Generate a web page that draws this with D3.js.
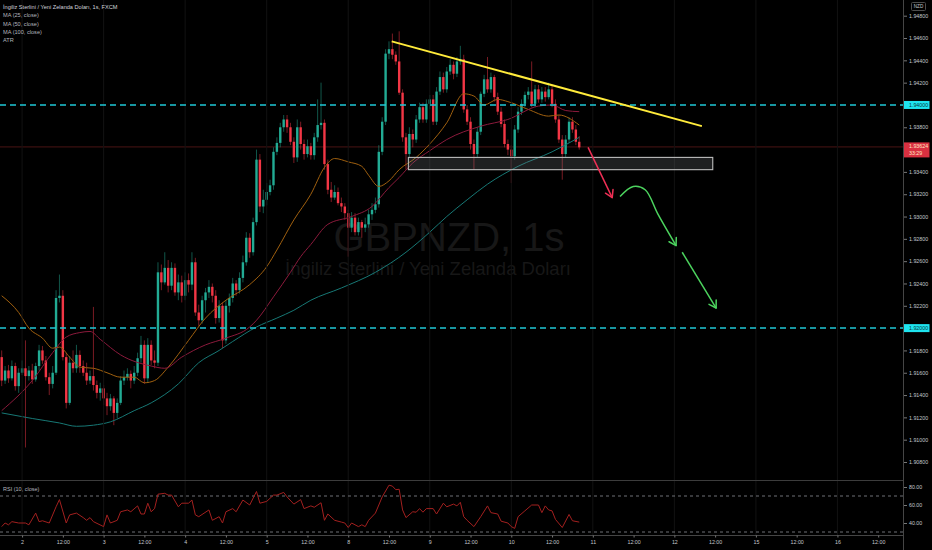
<!DOCTYPE html>
<html>
<head>
<meta charset="utf-8">
<title>GBPNZD, 1s</title>
<script src="https://cdn.jsdelivr.net/npm/d3@7/dist/d3.min.js"></script>
<style>
    html, body { margin: 0; padding: 0; background: #000; overflow: hidden; }
    #chart { width: 932px; height: 550px; }
    svg text { font-family: 'Liberation Sans', Arial, sans-serif; }
</style>
</head>
<body>
<div id="chart"></div>
<script>
// hourly candles, index 0 = day 2 00:00 (weekend hours skipped)
const firstIndex = -6;

const opens = [
    1.9174, 1.9153, 1.9162, 1.9155, 1.9166, 1.9148, 1.9160, 1.9164, 1.9157, 1.9162,
    1.9154, 1.9166, 1.9180, 1.9171, 1.9156, 1.9150, 1.9160, 1.9227, 1.9229, 1.9174,
    1.9133, 1.9169, 1.9164, 1.9176, 1.9166, 1.9160, 1.9153, 1.9157, 1.9149, 1.9142,
    1.9146, 1.9137, 1.9130, 1.9137, 1.9124, 1.9133, 1.9153, 1.9156, 1.9159, 1.9153,
    1.9160, 1.9173, 1.9185, 1.9155, 1.9185, 1.9171, 1.9169, 1.9250, 1.9241, 1.9254,
    1.9238, 1.9254, 1.9232, 1.9241, 1.9229, 1.9243, 1.9239, 1.9259, 1.9214, 1.9207,
    1.9225, 1.9232, 1.9237, 1.9229, 1.9209, 1.9220, 1.9189, 1.9220, 1.9227, 1.9240,
    1.9234, 1.9245, 1.9259, 1.9281, 1.9268, 1.9295, 1.9351, 1.9309, 1.9315, 1.9322,
    1.9328, 1.9358, 1.9366, 1.9380, 1.9387, 1.9380, 1.9367, 1.9353, 1.9380, 1.9365,
    1.9356, 1.9363, 1.9355, 1.9371, 1.9382, 1.9384, 1.9347, 1.9324, 1.9317, 1.9322,
    1.9312, 1.9309, 1.9303, 1.9290, 1.9299, 1.9286, 1.9295, 1.9290, 1.9293, 1.9302,
    1.9306, 1.9311, 1.9358, 1.9385, 1.9446, 1.9450, 1.9445, 1.9439, 1.9411, 1.9371,
    1.9356, 1.9374, 1.9369, 1.9387, 1.9398, 1.9387, 1.9401, 1.9405, 1.9385, 1.9412,
    1.9425, 1.9414, 1.9430, 1.9436, 1.9428, 1.9439, 1.9441, 1.9396, 1.9385, 1.9365,
    1.9356, 1.9376, 1.9410, 1.9423, 1.9414, 1.9425, 1.9407, 1.9394, 1.9383, 1.9365,
    1.9360, 1.9354, 1.9378, 1.9394, 1.9401, 1.9409, 1.9412, 1.9401, 1.9414, 1.9405,
    1.9412, 1.9407, 1.9414, 1.9401, 1.9387, 1.9369, 1.9356, 1.9369, 1.9385, 1.9378,
    1.9367
];
const highs = [
    1.9180, 1.9166, 1.9167, 1.9171, 1.9169, 1.9164, 1.9171, 1.9189, 1.9166, 1.9168,
    1.9169, 1.9185, 1.9184, 1.9175, 1.9160, 1.9166, 1.9234, 1.9248, 1.9234, 1.9178,
    1.9175, 1.9180, 1.9185, 1.9180, 1.9171, 1.9169, 1.9162, 1.9219, 1.9153, 1.9151,
    1.9149, 1.9142, 1.9141, 1.9139, 1.9137, 1.9157, 1.9162, 1.9164, 1.9162, 1.9166,
    1.9178, 1.9193, 1.9189, 1.9191, 1.9189, 1.9180, 1.9259, 1.9257, 1.9268, 1.9261,
    1.9259, 1.9258, 1.9248, 1.9247, 1.9250, 1.9249, 1.9268, 1.9263, 1.9221, 1.9229,
    1.9236, 1.9243, 1.9240, 1.9234, 1.9225, 1.9223, 1.9225, 1.9231, 1.9245, 1.9243,
    1.9250, 1.9265, 1.9286, 1.9285, 1.9299, 1.9360, 1.9356, 1.9324, 1.9330, 1.9333,
    1.9362, 1.9371, 1.9384, 1.9391, 1.9391, 1.9384, 1.9371, 1.9387, 1.9385, 1.9369,
    1.9369, 1.9366, 1.9375, 1.9405, 1.9420, 1.9387, 1.9351, 1.9331, 1.9328, 1.9326,
    1.9317, 1.9312, 1.9306, 1.9304, 1.9303, 1.9299, 1.9297, 1.9299, 1.9306, 1.9312,
    1.9317, 1.9364, 1.9389, 1.9450, 1.9457, 1.9464, 1.9448, 1.9466, 1.9414, 1.9375,
    1.9380, 1.9378, 1.9391, 1.9402, 1.9402, 1.9405, 1.9409, 1.9409, 1.9416, 1.9430,
    1.9429, 1.9434, 1.9441, 1.9439, 1.9443, 1.9453, 1.9445, 1.9400, 1.9389, 1.9369,
    1.9380, 1.9412, 1.9427, 1.9443, 1.9429, 1.9427, 1.9411, 1.9398, 1.9387, 1.9369,
    1.9364, 1.9382, 1.9398, 1.9405, 1.9412, 1.9416, 1.9439, 1.9418, 1.9418, 1.9416,
    1.9416, 1.9420, 1.9418, 1.9405, 1.9391, 1.9373, 1.9373, 1.9389, 1.9389, 1.9382,
    1.9372
];
const lows = [
    1.9148, 1.9150, 1.9151, 1.9153, 1.9144, 1.9142, 1.9158, 1.9093, 1.9153, 1.9150,
    1.9152, 1.9162, 1.9168, 1.9153, 1.9140, 1.9146, 1.9158, 1.9223, 1.9171, 1.9128,
    1.9131, 1.9160, 1.9160, 1.9160, 1.9157, 1.9149, 1.9150, 1.9144, 1.9137, 1.9135,
    1.9131, 1.9122, 1.9126, 1.9113, 1.9119, 1.9131, 1.9149, 1.9153, 1.9146, 1.9150,
    1.9157, 1.9169, 1.9150, 1.9151, 1.9167, 1.9164, 1.9166, 1.9234, 1.9239, 1.9232,
    1.9234, 1.9229, 1.9225, 1.9223, 1.9225, 1.9232, 1.9234, 1.9211, 1.9202, 1.9204,
    1.9214, 1.9227, 1.9223, 1.9204, 1.9205, 1.9182, 1.9186, 1.9214, 1.9223, 1.9229,
    1.9231, 1.9241, 1.9256, 1.9263, 1.9265, 1.9292, 1.9304, 1.9303, 1.9310, 1.9319,
    1.9324, 1.9355, 1.9362, 1.9376, 1.9375, 1.9364, 1.9348, 1.9349, 1.9360, 1.9351,
    1.9353, 1.9351, 1.9351, 1.9367, 1.9378, 1.9342, 1.9320, 1.9313, 1.9315, 1.9310,
    1.9304, 1.9297, 1.9264, 1.9286, 1.9283, 1.9283, 1.9281, 1.9286, 1.9290, 1.9297,
    1.9303, 1.9308, 1.9355, 1.9382, 1.9441, 1.9441, 1.9436, 1.9409, 1.9367, 1.9342,
    1.9353, 1.9362, 1.9366, 1.9384, 1.9384, 1.9384, 1.9396, 1.9382, 1.9382, 1.9409,
    1.9411, 1.9411, 1.9427, 1.9423, 1.9425, 1.9436, 1.9393, 1.9382, 1.9360, 1.9342,
    1.9353, 1.9373, 1.9407, 1.9411, 1.9411, 1.9403, 1.9391, 1.9380, 1.9362, 1.9355,
    1.9330, 1.9351, 1.9375, 1.9391, 1.9398, 1.9405, 1.9398, 1.9398, 1.9402, 1.9402,
    1.9403, 1.9405, 1.9398, 1.9384, 1.9366, 1.9333, 1.9353, 1.9366, 1.9375, 1.9364,
    1.9360
];
const closes = [
    1.9153, 1.9162, 1.9155, 1.9166, 1.9148, 1.9160, 1.9164, 1.9157, 1.9162, 1.9154,
    1.9166, 1.9180, 1.9171, 1.9156, 1.9150, 1.9160, 1.9227, 1.9229, 1.9174, 1.9133,
    1.9169, 1.9164, 1.9176, 1.9166, 1.9160, 1.9153, 1.9157, 1.9149, 1.9142, 1.9146,
    1.9137, 1.9130, 1.9137, 1.9124, 1.9133, 1.9153, 1.9156, 1.9159, 1.9153, 1.9160,
    1.9173, 1.9185, 1.9155, 1.9185, 1.9171, 1.9169, 1.9250, 1.9241, 1.9254, 1.9238,
    1.9254, 1.9232, 1.9241, 1.9229, 1.9243, 1.9239, 1.9259, 1.9214, 1.9207, 1.9225,
    1.9232, 1.9237, 1.9229, 1.9209, 1.9220, 1.9189, 1.9220, 1.9227, 1.9240, 1.9234,
    1.9245, 1.9259, 1.9281, 1.9268, 1.9295, 1.9351, 1.9309, 1.9315, 1.9322, 1.9328,
    1.9358, 1.9366, 1.9380, 1.9387, 1.9380, 1.9367, 1.9353, 1.9380, 1.9365, 1.9356,
    1.9363, 1.9355, 1.9371, 1.9382, 1.9384, 1.9347, 1.9324, 1.9317, 1.9322, 1.9312,
    1.9309, 1.9303, 1.9290, 1.9299, 1.9286, 1.9295, 1.9290, 1.9293, 1.9302, 1.9306,
    1.9311, 1.9358, 1.9385, 1.9446, 1.9450, 1.9445, 1.9439, 1.9411, 1.9371, 1.9356,
    1.9374, 1.9369, 1.9387, 1.9398, 1.9387, 1.9401, 1.9405, 1.9385, 1.9412, 1.9425,
    1.9414, 1.9430, 1.9436, 1.9428, 1.9439, 1.9441, 1.9396, 1.9385, 1.9365, 1.9356,
    1.9376, 1.9410, 1.9423, 1.9414, 1.9425, 1.9407, 1.9394, 1.9383, 1.9365, 1.9360,
    1.9354, 1.9378, 1.9394, 1.9401, 1.9409, 1.9412, 1.9401, 1.9414, 1.9405, 1.9412,
    1.9407, 1.9414, 1.9401, 1.9387, 1.9369, 1.9356, 1.9369, 1.9385, 1.9378, 1.9367,
    1.9362
];

// moving averages (candle index, value)
const ma25Index = [-6, -1, 2, 6, 9, 11, 14, 17, 21, 25, 29, 33, 36, 39, 43, 49, 54, 60, 67, 72,
    75, 80, 85, 89, 92, 96, 100, 102, 105, 108, 111, 116, 120, 125, 130, 133, 136, 140, 143, 149,
    155, 158, 164];
const ma25 = [1.9229, 1.9214, 1.9200, 1.9191, 1.9182, 1.9183, 1.9174, 1.9165, 1.9164, 1.9160,
    1.9156, 1.9156, 1.9151, 1.9153, 1.9165, 1.9189, 1.9209, 1.9225, 1.9239, 1.9255,
    1.9270, 1.9297, 1.9320, 1.9344, 1.9352, 1.9349, 1.9345, 1.9337, 1.9327, 1.9332,
    1.9342, 1.9353, 1.9365, 1.9384, 1.9410, 1.9408, 1.9400, 1.9405, 1.9403, 1.9396,
    1.9390, 1.9391, 1.9382];
const ma50Index = [-6, 3, 9, 13, 17, 20, 23, 29, 38, 42, 47, 54, 60, 67, 69, 74, 79, 82, 85, 90,
    97, 103, 108, 111, 115, 120, 125, 135, 143, 152, 156, 160, 164];
const ma50 = [1.9126, 1.9153, 1.9178, 1.9192, 1.9196, 1.9197, 1.9190, 1.9176, 1.9166, 1.9164,
    1.9174, 1.9185, 1.9191, 1.9201, 1.9207, 1.9228, 1.9250, 1.9264, 1.9275, 1.9293,
    1.9300, 1.9309, 1.9326, 1.9335, 1.9348, 1.9359, 1.9369, 1.9381, 1.9387, 1.9399,
    1.9400, 1.9395, 1.9394];
const ma100Index = [-6, 3, 11, 16, 21, 26, 33, 38, 46, 52, 58, 62, 69, 75, 80, 85, 94, 104, 113, 120,
    125, 131, 137, 146, 156, 164];
const ma100 = [1.9124, 1.9119, 1.9115, 1.9112, 1.9113, 1.9116, 1.9126, 1.9133, 1.9150, 1.9169,
    1.9180, 1.9188, 1.9201, 1.9209, 1.9216, 1.9225, 1.9236, 1.9250, 1.9268, 1.9286,
    1.9300, 1.9315, 1.9329, 1.9345, 1.9358, 1.9371];

// RSI (10)
const rsiIndex = [-6, -5, -4, -3, -1, 1, 2, 4, 5, 6, 8, 10, 11, 13, 14, 16, 18, 19, 20, 21,
    24, 25, 26, 28, 29, 31, 32, 34, 35, 36, 37, 38, 39, 40, 42, 43, 44, 46, 47, 49,
    50, 51, 52, 55, 56, 58, 59, 60, 62, 63, 65, 67, 69, 70, 72, 74, 75, 77, 78, 80,
    82, 83, 85, 86, 88, 89, 90, 92, 94, 95, 96, 97, 99, 100, 101, 102, 104, 106, 108, 109,
    110, 111, 112, 113, 115, 116, 117, 118, 119, 121, 122, 124, 125, 127, 128, 129, 130, 131, 133, 135,
    137, 138, 140, 141, 143, 144, 145, 146, 148, 150, 152, 153, 154, 155, 156, 157, 159, 161, 162, 164];
const rsiValues = [36, 40, 38, 41.5, 40, 40, 38, 51, 41.5, 42.5, 40, 58, 66, 40, 49, 51, 46, 43, 46, 41.5,
    36, 49, 40, 43, 52.5, 54.5, 52.5, 59, 50, 50, 62, 52.5, 56, 72, 73, 71, 71, 58, 62, 62,
    65.5, 49, 47, 54.5, 43, 47, 40, 52.5, 56, 52.5, 65.5, 60, 75, 62, 64, 71, 71, 74, 69, 61,
    66, 56, 59, 57.5, 62.5, 43, 50, 43, 41, 40, 35, 40, 36, 38, 36, 43, 51, 69, 82, 81,
    77, 77.5, 54.5, 46, 52.5, 52, 56, 52, 56, 56, 50, 62, 58, 61, 59, 63, 47, 43, 36, 47,
    59, 51.5, 50, 42, 40, 36, 34, 47, 53.5, 60, 60, 51.5, 59, 54.5, 53.5, 44, 35, 49.5, 42.5, 41];

// axis labels (1.940, 1.936 and 1.920 sit under the coloured scale labels)
const priceTicks = [1.948, 1.946, 1.944, 1.942, 1.938, 1.934, 1.932, 1.930, 1.928,
    1.926, 1.924, 1.922, 1.918, 1.916, 1.914, 1.912, 1.910, 1.908];
const rsiTicks = [80, 60, 40];
const rsiBands = [70, 30];
const timeTickIndex = [0, 12, 24, 36, 48, 60, 72, 84, 96, 108, 120, 132, 144, 156, 168, 180,
    192, 204, 216, 228, 240, 252];
const timeLabels = ['2', '12:00', '3', '12:00', '4', '12:00', '5', '12:00', '8', '12:00', '9',
    '12:00', '10', '12:00', '11', '12:00', '12', '12:00', '15', '12:00', '16', '12:00'];
const dayLineIndex = [0, 24, 48, 72, 96, 120, 144, 168, 192, 216, 240];

// drawings on the chart
const levelPrices = [1.94, 1.92];
const lastPrice = 1.93624;
const countdown = '33:29';
const trendLine = [[108.8, 1.9457], [200.1, 1.9381]];
const zoneIndex = [113.7, 203.3];
const zonePrice = [1.9353, 1.9342];
const redArrow = [[166.6, 1.9362], [173.7, 1.9317]];
const greenArrow1 = [[176.0, 1.9318], [179.9, 1.9327], [183.4, 1.9324], [187.2, 1.9302], [192.5, 1.9274]];
const greenArrow2 = [[194.3, 1.9268], [204.3, 1.9218]];

const legendLines = ['İngiliz Sterlini / Yeni Zelanda Doları, 1s, FXCM', 'MA (25, close)',
    'MA (50, close)', 'MA (100, close)', 'ATR'];

class CandleChart {
    constructor(container) {
        this.width = 932;
        this.height = 550;
        this.axisX = 903;
        this.mainBottom = 480;
        this.rsiTop = 481;
        this.rsiBottom = 535;

        this.x = d3.scaleLinear().domain([-6.5, 259.3]).range([0, this.axisX]);
        this.y = d3.scaleLinear().domain([1.908, 1.948]).range([462, 15.7]);
        this.yRsi = d3.scaleLinear().domain([30, 80]).range([532, 487]);

        this.candles = closes.map((c, i) => ({
            index: firstIndex + i,
            open: opens[i],
            high: highs[i],
            low: lows[i],
            close: c
        }));

        this.svg = d3.select(container)
            .append('svg')
            .attr('width', this.width)
            .attr('height', this.height)
            .style('background', '#000');

        const defs = this.svg.append('defs');
        defs.append('clipPath').attr('id', 'clip-main')
            .append('rect').attr('x', 0).attr('y', 0)
            .attr('width', this.axisX).attr('height', this.mainBottom);
        defs.append('clipPath').attr('id', 'clip-rsi')
            .append('rect').attr('x', 0).attr('y', this.rsiTop)
            .attr('width', this.axisX).attr('height', this.rsiBottom - this.rsiTop);

        this.main = this.svg.append('g').attr('clip-path', 'url(#clip-main)');
        this.drawGrid();
        this.drawWatermark();
        this.drawCandles();
        this.drawAverages();
        this.drawDrawings();
        this.drawRsi();
        this.drawAxes();
        this.drawLegend();
    }

    drawGrid() {
        this.svg.append('g')
            .selectAll('line')
            .data(dayLineIndex)
            .join('line')
            .attr('x1', d => this.x(d)).attr('x2', d => this.x(d))
            .attr('y1', 0).attr('y2', this.rsiBottom)
            .attr('stroke', '#121212')
            .attr('stroke-width', 1);
    }

    drawWatermark() {
        const g = this.main.append('g').attr('text-anchor', 'middle').attr('fill', '#171717');
        g.append('text')
            .attr('x', 449).attr('y', 251)
            .style('font-size', '40px')
            .text('GBPNZD, 1s');
        g.append('text')
            .attr('x', 428).attr('y', 275)
            .style('font-size', '18.5px')
            .text('İngiliz Sterlini / Yeni Zelanda Doları');
    }

    drawCandles() {
        const up = '#22ab94';
        const down = '#f23645';
        const bodyWidth = 2.4;
        const color = d => d.close >= d.open ? up : down;

        // last price line sits behind the candles
        this.main.append('line')
            .attr('x1', 0).attr('x2', this.axisX)
            .attr('y1', this.y(lastPrice)).attr('y2', this.y(lastPrice))
            .attr('stroke', '#4a1414')
            .attr('stroke-width', 1);

        const g = this.main.append('g');
        g.selectAll('line.wick')
            .data(this.candles)
            .join('line')
            .attr('class', 'wick')
            .attr('x1', d => this.x(d.index)).attr('x2', d => this.x(d.index))
            .attr('y1', d => this.y(d.high)).attr('y2', d => this.y(d.low))
            .attr('stroke', color)
            .attr('stroke-opacity', 0.5)
            .attr('stroke-width', 1);

        g.selectAll('rect.body')
            .data(this.candles)
            .join('rect')
            .attr('class', 'body')
            .attr('x', d => this.x(d.index) - bodyWidth / 2)
            .attr('y', d => this.y(Math.max(d.open, d.close)))
            .attr('width', bodyWidth)
            .attr('height', d => Math.max(1, Math.abs(this.y(d.open) - this.y(d.close))))
            .attr('fill', color);
    }

    drawAverages() {
        const series = [
            { index: ma25Index, values: ma25, color: '#a0600f' },
            { index: ma50Index, values: ma50, color: '#8c1a3c' },
            { index: ma100Index, values: ma100, color: '#177875' }
        ];
        const line = d3.line()
            .x(d => this.x(d[0]))
            .y(d => this.y(d[1]))
            .curve(d3.curveMonotoneX);

        this.main.append('g')
            .selectAll('path')
            .data(series)
            .join('path')
            .attr('d', s => line(s.index.map((idx, i) => [idx, s.values[i]])))
            .attr('fill', 'none')
            .attr('stroke', s => s.color)
            .attr('stroke-width', 1);
    }

    arrowHead(g, from, to, color) {
        const x0 = this.x(from[0]), y0 = this.y(from[1]);
        const x1 = this.x(to[0]), y1 = this.y(to[1]);
        const angle = Math.atan2(y1 - y0, x1 - x0);
        [-0.55, 0.55].forEach(da => {
            g.append('line')
                .attr('x1', x1).attr('y1', y1)
                .attr('x2', x1 - 8 * Math.cos(angle + da))
                .attr('y2', y1 - 8 * Math.sin(angle + da))
                .attr('stroke', color)
                .attr('stroke-width', 1.5)
                .attr('stroke-linecap', 'round');
        });
    }

    drawDrawings() {
        const g = this.svg.append('g');

        // support zone
        g.append('rect')
            .attr('x', this.x(zoneIndex[0]))
            .attr('y', this.y(zonePrice[0]))
            .attr('width', this.x(zoneIndex[1]) - this.x(zoneIndex[0]))
            .attr('height', this.y(zonePrice[1]) - this.y(zonePrice[0]))
            .attr('fill', 'rgba(130,132,140,0.24)')
            .attr('stroke', '#bdbdbd')
            .attr('stroke-width', 1.1);

        // horizontal levels
        g.selectAll('line.level')
            .data(levelPrices)
            .join('line')
            .attr('class', 'level')
            .attr('x1', 0).attr('x2', this.axisX)
            .attr('y1', d => this.y(d)).attr('y2', d => this.y(d))
            .attr('stroke', '#1fc8d6')
            .attr('stroke-width', 1.5)
            .attr('stroke-dasharray', '6,4');

        // descending trend line
        g.append('line')
            .attr('x1', this.x(trendLine[0][0])).attr('y1', this.y(trendLine[0][1]))
            .attr('x2', this.x(trendLine[1][0])).attr('y2', this.y(trendLine[1][1]))
            .attr('stroke', '#ffeb3b')
            .attr('stroke-width', 2);

        const path = d3.line()
            .x(d => this.x(d[0]))
            .y(d => this.y(d[1]))
            .curve(d3.curveCatmullRom);

        g.append('path')
            .attr('d', path(redArrow))
            .attr('fill', 'none')
            .attr('stroke', '#ef2f55')
            .attr('stroke-width', 1.5);
        this.arrowHead(g, redArrow[0], redArrow[1], '#ef2f55');

        [greenArrow1, greenArrow2].forEach(pts => {
            g.append('path')
                .attr('d', path(pts))
                .attr('fill', 'none')
                .attr('stroke', '#4cd35e')
                .attr('stroke-width', 1.5);
            this.arrowHead(g, pts[pts.length - 2], pts[pts.length - 1], '#4cd35e');
        });
    }

    drawRsi() {
        const g = this.svg.append('g');
        g.append('line')
            .attr('x1', 0).attr('x2', this.axisX)
            .attr('y1', this.rsiTop - 0.5).attr('y2', this.rsiTop - 0.5)
            .attr('stroke', '#3c3c3c');

        g.selectAll('line.band')
            .data(rsiBands)
            .join('line')
            .attr('class', 'band')
            .attr('x1', 0).attr('x2', this.axisX)
            .attr('y1', d => this.yRsi(d)).attr('y2', d => this.yRsi(d))
            .attr('stroke', '#8a8d94')
            .attr('stroke-width', 0.8)
            .attr('stroke-dasharray', '3,3');

        const line = d3.line()
            .x(d => this.x(d[0]))
            .y(d => this.yRsi(d[1]));

        g.append('path')
            .attr('clip-path', 'url(#clip-rsi)')
            .attr('d', line(rsiIndex.map((idx, i) => [idx, rsiValues[i]])))
            .attr('fill', 'none')
            .attr('stroke', '#a3201f')
            .attr('stroke-width', 1);

        g.append('text')
            .attr('x', 3).attr('y', 491)
            .attr('fill', '#b2b5be')
            .style('font-size', '5.5px')
            .text('RSI (10, close)');
    }

    drawAxes() {
        const g = this.svg.append('g');
        const fmt = d3.format('.5f');
        const styleText = a => a.selectAll('text')
            .attr('fill', '#c5c8cf')
            .style('font-size', '5.3px')
            .style('font-family', "'Liberation Sans', Arial, sans-serif");

        // frame lines
        g.append('line')
            .attr('x1', this.axisX + 0.5).attr('x2', this.axisX + 0.5)
            .attr('y1', 0).attr('y2', this.height)
            .attr('stroke', '#454545');
        g.append('line')
            .attr('x1', 0).attr('x2', this.axisX)
            .attr('y1', this.rsiBottom + 0.5).attr('y2', this.rsiBottom + 0.5)
            .attr('stroke', '#454545');

        // price scale
        const priceAxis = d3.axisRight(this.y)
            .tickValues(priceTicks)
            .tickFormat(fmt)
            .tickSize(3)
            .tickPadding(2);
        g.append('g')
            .attr('transform', `translate(${this.axisX + 1},0)`)
            .call(priceAxis)
            .call(a => a.select('.domain').remove())
            .call(a => a.selectAll('line').attr('stroke', '#777'))
            .call(styleText);

        // rsi scale
        const rsiAxis = d3.axisRight(this.yRsi)
            .tickValues(rsiTicks)
            .tickFormat(d3.format('.2f'))
            .tickSize(3)
            .tickPadding(2);
        g.append('g')
            .attr('transform', `translate(${this.axisX + 1},0)`)
            .call(rsiAxis)
            .call(a => a.select('.domain').remove())
            .call(a => a.selectAll('line').attr('stroke', '#777'))
            .call(styleText);

        // time scale
        const timeAxis = d3.axisBottom(this.x)
            .tickValues(timeTickIndex)
            .tickFormat((d, i) => timeLabels[i])
            .tickSize(2)
            .tickPadding(3);
        g.append('g')
            .attr('transform', `translate(0,${this.rsiBottom + 0.5})`)
            .call(timeAxis)
            .call(a => a.select('.domain').remove())
            .call(a => a.selectAll('line').attr('stroke', '#777'))
            .call(styleText);

        // level labels on the scale
        const labels = g.append('g');
        levelPrices.forEach(p => {
            const yy = this.y(p);
            labels.append('rect')
                .attr('x', this.axisX + 1).attr('y', yy - 4)
                .attr('width', 25.5).attr('height', 8)
                .attr('fill', '#1ee4ef');
            labels.append('text')
                .attr('x', this.axisX + 6).attr('y', yy + 2)
                .attr('fill', '#08383c')
                .style('font-size', '5.3px')
                .text(fmt(p));
        });

        // last price + countdown
        const ly = this.y(lastPrice);
        labels.append('rect')
            .attr('x', this.axisX + 1).attr('y', ly - 4.5)
            .attr('width', 25.5).attr('height', 15)
            .attr('fill', '#d93040');
        labels.append('text')
            .attr('x', this.axisX + 6).attr('y', ly + 1.5)
            .attr('fill', '#ffe7c4')
            .style('font-size', '5.3px')
            .text(fmt(lastPrice));
        labels.append('text')
            .attr('x', this.axisX + 6).attr('y', ly + 8.5)
            .attr('fill', '#ffe7c4')
            .style('font-size', '5.3px')
            .text(countdown);

        // currency box
        labels.append('rect')
            .attr('x', 911.5).attr('y', 2.5)
            .attr('width', 14).attr('height', 8)
            .attr('fill', 'none')
            .attr('stroke', '#4d4d4d')
            .attr('rx', 1);
        labels.append('text')
            .attr('x', 918.5).attr('y', 8.4)
            .attr('text-anchor', 'middle')
            .attr('fill', '#c5c8cf')
            .style('font-size', '4.6px')
            .text('NZD');
    }

    drawLegend() {
        this.svg.append('g')
            .selectAll('text')
            .data(legendLines)
            .join('text')
            .attr('x', 3)
            .attr('y', (d, i) => 9.3 + i * 8.1)
            .attr('fill', (d, i) => i === 0 ? '#d1d4dc' : '#b2b5be')
            .style('font-size', '5.6px')
            .text(d => d);
    }
}

new CandleChart('#chart');
</script>
</body>
</html>
